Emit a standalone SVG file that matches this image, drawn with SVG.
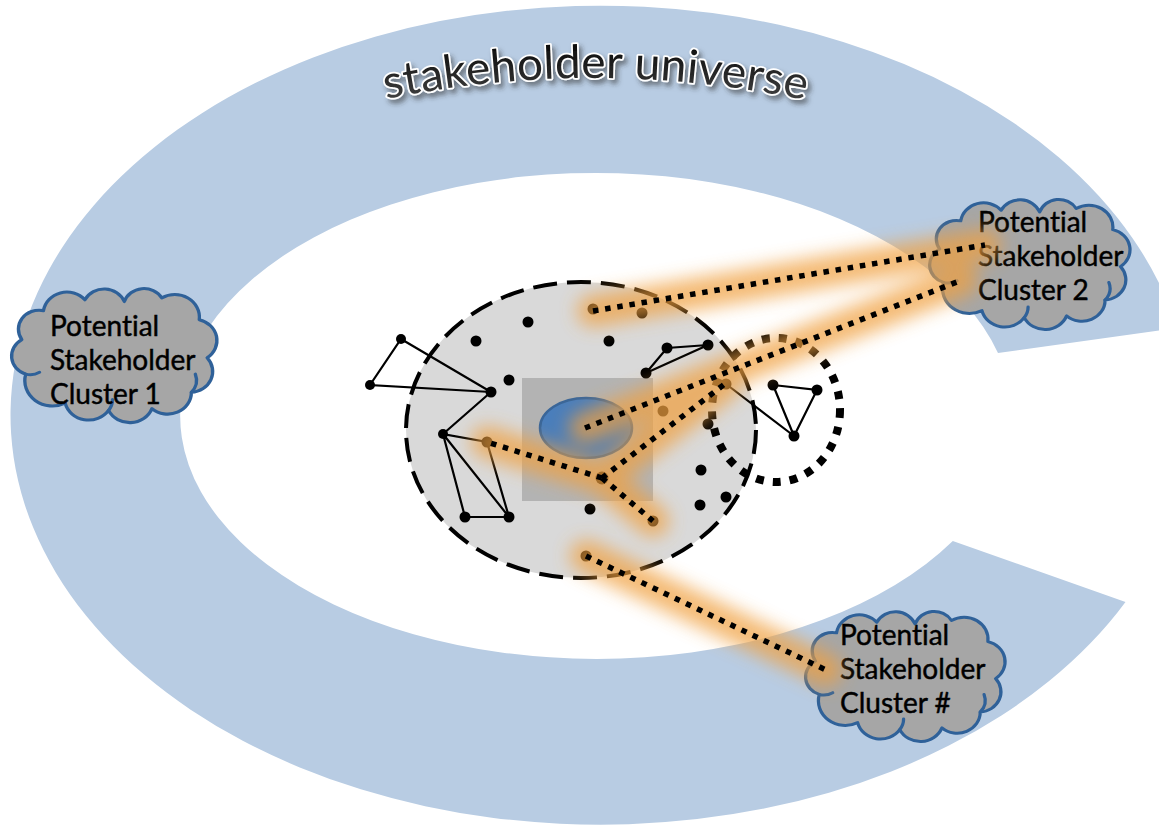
<svg xmlns="http://www.w3.org/2000/svg" width="1159" height="827" viewBox="0 0 1159 827">
<style>
.cloud{fill:#A6A6A6;stroke:#2F6199;stroke-width:3.4;stroke-linejoin:round}
.crease{fill:none;stroke:#2F6199;stroke-width:3.4;stroke-linecap:round}
.ctext{font-family:Lato,"Open Sans","Liberation Sans",sans-serif;font-size:28px;fill:#000;stroke:#000;stroke-width:0.45;font-variant-ligatures:none}
.net{stroke:#000;stroke-width:2.2;fill:none}
.dot{fill:#000}
.dotline{stroke:#000;stroke-width:5.5;stroke-dasharray:5.5 6.8;fill:none}
.glow{stroke:#F0A040;stroke-width:32;stroke-linecap:round;fill:none}
</style>
<defs>
<filter id="blur" filterUnits="userSpaceOnUse" x="0" y="0" width="1159" height="827">
<feGaussianBlur stdDeviation="9"/>
</filter>
<filter id="shadow" filterUnits="userSpaceOnUse" x="300" y="20" width="600" height="120">
<feDropShadow dx="3" dy="4" stdDeviation="2.5" flood-color="#333" flood-opacity="0.55"/>
</filter>
<linearGradient id="tgrad" x1="0" y1="0" x2="0" y2="1">
<stop offset="0" stop-color="#000"/>
<stop offset="1" stop-color="#4a4a4a"/>
</linearGradient>
<path id="cloudshape" d="M 12,88 A 21 21 0 0 1 8,50 A 21 21 0 0 1 30,18 A 24 24 0 0 1 72,6 A 22 22 0 0 1 112,8 A 21 21 0 0 1 150,4 A 25 25 0 0 1 188,28 A 23.5 23.5 0 0 1 196,70 A 23 23 0 0 1 180,108 A 24 24 0 0 1 140,126 A 24 24 0 0 1 96,128 A 24.5 24.5 0 0 1 52,120 A 28 28 0 0 1 12,88 Z"/>
<path id="creases" d="M 180,108 A 20 20 0 0 0 184,88 M 12,88 A 18 18 0 0 0 26,86 M 96,128 A 20 20 0 0 0 100,116"/>
<path id="titlearc" d="M 386,99 Q 597,56 810,101"/>
</defs>

<g id="universe">
<path d="M 1177,328 A 590 409.5 0 1 0 1125.5,602 L 952.8,541 A 416 243 0 1 1 998,353 Z" fill="#B8CCE3"/>
<text filter="url(#shadow)" font-family="Lato,'Open Sans','Liberation Sans',sans-serif" font-size="46" fill="url(#tgrad)" stroke="#fff" stroke-width="3.5" paint-order="stroke" stroke-linejoin="round"><textPath href="#titlearc" textLength="422" lengthAdjust="spacing">stakeholder universe</textPath></text>
</g>

<g id="cluster1">
<g transform="translate(13.9,294.3) scale(0.986,0.907)">
<use href="#cloudshape" class="cloud"/>
<use href="#creases" class="crease"/>
</g>
<text class="ctext" x="50" y="336">Potential</text>
<text class="ctext" x="50" y="370">Stakeholder</text>
<text class="ctext" x="50" y="404">Cluster 1</text>
</g>

<g id="cluster2">
<g transform="translate(931.9,205) scale(0.962,0.88)">
<use href="#cloudshape" class="cloud"/>
<use href="#creases" class="crease"/>
</g>
<text class="ctext" x="978" y="232">Potential</text>
<text class="ctext" x="978" y="266">Stakeholder</text>
<text class="ctext" x="978" y="300">Cluster 2</text>
</g>

<g id="clusterN">
<g transform="translate(807.8,617) scale(0.958,0.88)">
<use href="#cloudshape" class="cloud"/>
<use href="#creases" class="crease"/>
</g>
<text class="ctext" x="840" y="645">Potential</text>
<text class="ctext" x="840" y="679">Stakeholder</text>
<text class="ctext" x="840" y="713">Cluster #</text>
</g>

<g id="core">
<ellipse cx="581" cy="430" rx="175" ry="148" fill="#D9D9D9" stroke="#000" stroke-width="4" stroke-dasharray="24 10"/>
<rect x="522" y="378" width="131" height="123" fill="#A6A6A6" opacity="0.75"/>
<ellipse cx="586" cy="428" rx="46" ry="30" fill="#4A7EBB" stroke="#3A6699" stroke-width="2.5"/>
</g>

<g id="network">
<path class="net" d="M401,339 L491,392 L370,385 Z M491,392 L443,434 L487,442 L509,517 L465,517 L443,434 L509,517"/>
<path class="net" d="M646,373 L667,348 L708,345 Z"/>
<path class="net" d="M773,385 L817,390 L794,436 Z M726,384 L794,436"/>
<g class="dot">
<circle cx="528" cy="322" r="5.5"/><circle cx="476" cy="341" r="5.5"/><circle cx="609" cy="341" r="5.5"/>
<circle cx="509" cy="380" r="5.5"/><circle cx="701" cy="470" r="5.5"/><circle cx="700" cy="505" r="5.5"/>
<circle cx="726" cy="497" r="5.5"/><circle cx="590" cy="509" r="5.5"/>
<circle cx="667" cy="348" r="5.5"/><circle cx="708" cy="345" r="5.5"/><circle cx="646" cy="373" r="5.5"/>
<circle cx="401" cy="339" r="5"/><circle cx="370" cy="385" r="5"/><circle cx="491" cy="392" r="5.5"/>
<circle cx="443" cy="434" r="5"/><circle cx="465" cy="517" r="5.5"/><circle cx="509" cy="517" r="5.5"/>
<circle cx="773" cy="385" r="5.5"/><circle cx="817" cy="390" r="5.5"/><circle cx="794" cy="436" r="5.5"/>
<circle cx="593" cy="309" r="5.5"/><circle cx="642" cy="313" r="5.5"/><circle cx="663" cy="411" r="5.5"/>
<circle cx="708" cy="424" r="5.5"/><circle cx="726" cy="384" r="5.5"/><circle cx="487" cy="442" r="5.5"/>
<circle cx="602" cy="478" r="6.5"/><circle cx="653" cy="521" r="5.5"/><circle cx="586" cy="556" r="5.5"/>
</g>
<ellipse id="subgroup" cx="776" cy="410" rx="64" ry="72" fill="none" stroke="#000" stroke-width="8" stroke-dasharray="8 9"/>
</g>

<g id="connectors">
<g filter="url(#blur)" opacity="0.72">
<path class="glow" d="M593,311 L985,245"/>
<path class="glow" d="M585,428 L962,280"/>
<path class="glow" d="M602,478 L726,383"/>
<path class="glow" d="M602,478 L487,442"/>
<path class="glow" d="M602,478 L653,521"/>
<path class="glow" d="M586,556 L826,670"/>
<circle cx="602" cy="478" r="18" fill="#F0A040"/>
</g>
<path class="dotline" d="M593,311 L985,245"/>
<path class="dotline" d="M585,428 L962,280"/>
<path class="dotline" d="M602,478 L726,383"/>
<path class="dotline" d="M602,478 L487,442"/>
<path class="dotline" d="M602,478 L653,521"/>
<path class="dotline" d="M586,556 L826,670"/>
</g>
</svg>
